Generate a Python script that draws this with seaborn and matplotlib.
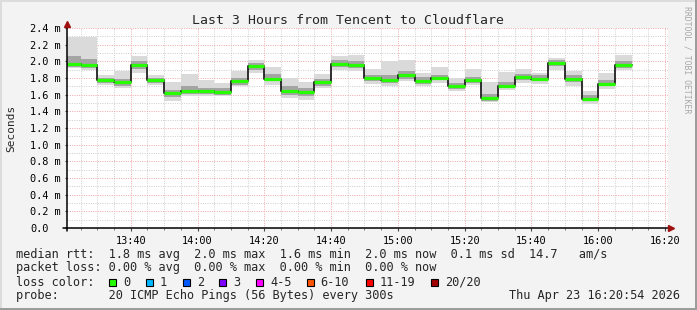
import numpy as np
import pandas as pd
import matplotlib
matplotlib.use("Agg")
import matplotlib.pyplot as plt
import seaborn as sns
from matplotlib.lines import Line2D
from matplotlib.patches import Rectangle
from matplotlib.ticker import FuncFormatter, MultipleLocator

# ---------------- data ----------------
title = "Last 3 Hours from Tencent to Cloudflare"
y_label = "Seconds"
window_start = "2026-04-23 13:20:54"
window_end = "2026-04-23 16:20:54"
first_full_step = "2026-04-23 13:25"
last_step = "2026-04-23 16:05"
step_end = "2026-04-23 16:10"

# median rtt per 5-minute step (ms)
median = [1.97, 1.95, 1.77, 1.75, 1.95, 1.77, 1.62, 1.65, 1.64, 1.63, 1.76, 1.94,
          1.79, 1.65, 1.63, 1.75, 1.97, 1.96, 1.80, 1.78, 1.83, 1.76, 1.80, 1.70,
          1.77, 1.56, 1.71, 1.81, 1.79, 1.98, 1.79, 1.55, 1.73, 1.96]
# smoke: full ping spread (ms)
smoke_hi = [2.29, 2.29, 1.84, 1.88, 2.06, 1.84, 1.75, 1.85, 1.77, 1.74, 1.88, 2.02,
            1.93, 1.80, 1.75, 1.85, 2.07, 2.08, 1.91, 2.00, 2.02, 1.86, 1.93, 1.80,
            1.91, 1.75, 1.87, 1.91, 1.86, 2.04, 1.88, 1.64, 1.86, 2.08]
smoke_lo = [1.92, 1.90, 1.72, 1.68, 1.86, 1.72, 1.53, 1.58, 1.58, 1.58, 1.70, 1.86,
            1.72, 1.56, 1.54, 1.68, 1.90, 1.89, 1.73, 1.70, 1.76, 1.70, 1.74, 1.64,
            1.72, 1.51, 1.66, 1.74, 1.73, 1.90, 1.70, 1.49, 1.67, 1.90]
# smoke: inner (denser) part of the spread (ms)
core_hi = [2.06, 2.03, 1.80, 1.79, 2.00, 1.80, 1.66, 1.70, 1.68, 1.68, 1.80, 1.98,
           1.85, 1.70, 1.68, 1.79, 2.02, 2.01, 1.84, 1.83, 1.88, 1.81, 1.84, 1.74,
           1.81, 1.61, 1.75, 1.85, 1.84, 2.02, 1.84, 1.60, 1.78, 2.01]
core_lo = [1.93, 1.92, 1.74, 1.71, 1.91, 1.74, 1.57, 1.61, 1.61, 1.60, 1.72, 1.90,
           1.76, 1.60, 1.58, 1.71, 1.93, 1.92, 1.76, 1.74, 1.79, 1.73, 1.77, 1.67,
           1.74, 1.53, 1.68, 1.77, 1.76, 1.94, 1.75, 1.52, 1.70, 1.92]

y_ticks = [0.0, 0.2, 0.4, 0.6, 0.8, 1.0, 1.2, 1.4, 1.6, 1.8, 2.0, 2.2, 2.4]

stats_line = "median rtt:  1.8 ms avg  2.0 ms max  1.6 ms min  2.0 ms now  0.1 ms sd  14.7   am/s"
loss_line = "packet loss: 0.00 % avg  0.00 % max  0.00 % min  0.00 % now"
loss_labels = ["0", "1", "2", "3", "4-5", "6-10", "11-19", "20/20"]
loss_colors = ["#26ff00", "#00b8ff", "#0059ff", "#7e00ff", "#ff00ff", "#ff5500", "#ff0000", "#a10000"]
probe_line = "probe:       20 ICMP Echo Pings (56 Bytes) every 300s"
stamp = "Thu Apr 23 16:20:54 2026"
watermark = "RRDTOOL / TOBI OETIKER"

# ---------------- setup ----------------
sns.set_style("white")
plt.rcParams["font.family"] = ["DejaVu Sans Mono", "DejaVu Sans"]

W, H = 697, 310
fig = plt.figure(figsize=(W / 100, H / 100), dpi=100)
fig.patch.set_facecolor("#f3f3f3")

def fx(x):
    return x / W

def fy(y):
    return 1 - y / H

L, R, T, B = 67, 668, 28, 228
ax = fig.add_axes([fx(L), fy(B), (R - L) / W, (B - T) / H])
ax.set_facecolor("white")
for s in ax.spines.values():
    s.set_visible(False)

base = pd.Timestamp("2026-04-23 13:00")
def mins(t):
    return (pd.Timestamp(t) - base).total_seconds() / 60.0

starts = [mins(window_start)] + [mins(t) for t in pd.date_range(first_full_step, last_step, freq="5min")]
ends = starts[1:] + [mins(step_end)]
edges = np.array(starts + [ends[-1]])

def ext(a):
    return np.array(list(a) + [a[-1]])

ax.fill_between(edges, ext(smoke_lo), ext(smoke_hi), step="post", color="#dadada", lw=0, zorder=2)
ax.fill_between(edges, ext(core_lo), ext(core_hi), step="post", color="#a4a4a4", lw=0, zorder=3)

df = pd.DataFrame({"t": edges, "median": ext(median)})
sns.lineplot(data=df, x="t", y="median", estimator=None, sort=False, drawstyle="steps-post",
             color="#202020", lw=1.3, ax=ax, zorder=4)
ax.hlines(median, starts, ends, color=loss_colors[0], lw=2.3, zorder=5)

ax.set_xlim(mins(window_start), mins(window_end))
ax.set_ylim(0, 2.4)

ax.xaxis.set_major_locator(MultipleLocator(20))
ax.xaxis.set_minor_locator(MultipleLocator(5))
ax.xaxis.set_major_formatter(FuncFormatter(lambda v, p: f"{13 + int(v) // 60:02d}:{int(v) % 60:02d}"))
ax.set_yticks(y_ticks)
ax.yaxis.set_minor_locator(MultipleLocator(0.1))
ax.set_yticklabels([("0.0" if v == 0 else f"{v:.1f} m") for v in y_ticks])
for lab in ax.get_yticklabels():
    lab.set_horizontalalignment("left")

ax.grid(which="minor", color="#cccccc", ls=(0, (1, 1.4)), lw=0.7, zorder=1)
ax.grid(which="major", color="#f2a6a6", ls=(0, (1, 1.4)), lw=0.7, zorder=1)
ax.set_axisbelow(True)

ax.tick_params(axis="x", which="major", length=2, width=0.8, color="#444444", pad=4,
               labelsize=7.4, labelcolor="black", bottom=True)
ax.tick_params(axis="x", which="minor", length=1.5, width=0.6, color="#666666", bottom=True)
ax.tick_params(axis="y", which="major", length=1.5, width=0.8, color="#444444", pad=25.1,
               labelsize=7.4, labelcolor="black", left=True)
ax.tick_params(axis="y", which="minor", length=0)
ax.set_xlabel("")
ax.set_ylabel("")

# axis lines with arrows
fig.add_artist(Line2D([fx(L - 4), fx(R + 2)], [fy(B), fy(B)], color="black", lw=1.1))
fig.add_artist(Line2D([fx(L), fx(L)], [fy(B + 3), fy(T - 3)], color="black", lw=1.1))
fig.add_artist(Line2D([fx(L)], [fy(T - 4)], marker="^", ms=5, color="#a01010", mec="#a01010"))
fig.add_artist(Line2D([fx(R + 3)], [fy(B)], marker=">", ms=5, color="#a01010", mec="#a01010"))

# titles
fig.text(fx(348), fy(24.5), title, ha="center", va="baseline", fontsize=9.5)
fig.text(fx(11), fy(128), y_label, rotation=90, ha="center", va="center", fontsize=8)
fig.text(fx(687), fy(6), watermark, rotation=270, ha="center", va="top", fontsize=5.9, color="#a8a8a8")

# legend block
fs = 8.6
fig.text(fx(16), fy(258), stats_line, ha="left", va="baseline", fontsize=fs)
fig.text(fx(16), fy(271.5), loss_line, ha="left", va="baseline", fontsize=fs)
fig.text(fx(16), fy(285.5), "loss color:", ha="left", va="baseline", fontsize=fs)
box_x = [109, 145.7, 182.7, 219.3, 256, 306.7, 365.7, 431]
for bx, lab, col in zip(box_x, loss_labels, loss_colors):
    fig.add_artist(Rectangle((fx(bx), fy(285.5)), 7 / W, 7 / H, facecolor=col,
                             edgecolor="black", lw=0.8))
    fig.text(fx(bx + 14), fy(285.5), lab, ha="left", va="baseline", fontsize=fs)
fig.text(fx(16), fy(299), probe_line, ha="left", va="baseline", fontsize=fs)
fig.text(fx(680), fy(299), stamp, ha="right", va="baseline", fontsize=fs)

# frame
fig.add_artist(Rectangle((0, 0), 1, 2 / H, facecolor="#9c9c9c", lw=0))
fig.add_artist(Rectangle((1 - 2 / W, 0), 2 / W, 1, facecolor="#9c9c9c", lw=0))
fig.add_artist(Rectangle((0, 1 - 2 / H), 1 - 2 / W, 2 / H, facecolor="#dcdcdc", lw=0))
fig.add_artist(Rectangle((0, 2 / H), 2 / W, 1 - 2 / H, facecolor="#dcdcdc", lw=0))

fig.savefig("out.png", dpi=100, facecolor=fig.get_facecolor())
